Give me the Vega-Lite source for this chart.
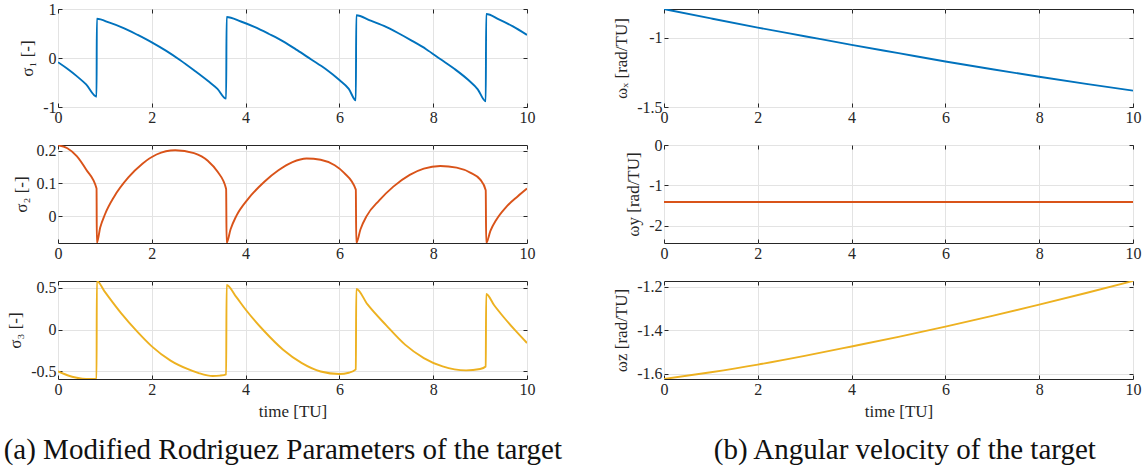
{
  "$schema": "https://vega.github.io/schema/vega-lite/v6.json",
  "background": "white",
  "padding": {"left": 3, "top": 0, "right": 5, "bottom": 5},
  "datasets": {
    "s1": [
      {"t":0,"v":-0.085},{"t":0.2,"v":-0.22},{"t":0.4,"v":-0.37},{"t":0.6,"v":-0.54},{"t":0.822,"v":-0.79},
      {"t":0.828,"v":0.80},{"t":1.1,"v":0.72},{"t":1.4,"v":0.61},{"t":1.7,"v":0.47},{"t":2.0,"v":0.32},{"t":2.3,"v":0.15},{"t":2.6,"v":-0.04},{"t":2.9,"v":-0.25},{"t":3.2,"v":-0.47},{"t":3.4,"v":-0.63},{"t":3.585,"v":-0.83},
      {"t":3.595,"v":0.837},{"t":3.9,"v":0.745},{"t":4.2,"v":0.63},{"t":4.5,"v":0.49},{"t":4.8,"v":0.34},{"t":5.1,"v":0.16},{"t":5.4,"v":-0.03},{"t":5.7,"v":-0.22},{"t":6.0,"v":-0.45},{"t":6.2,"v":-0.63},{"t":6.35,"v":-0.864},
      {"t":6.36,"v":0.871},{"t":6.65,"v":0.77},{"t":6.95,"v":0.655},{"t":7.25,"v":0.51},{"t":7.55,"v":0.35},{"t":7.85,"v":0.18},{"t":8.15,"v":-0.02},{"t":8.45,"v":-0.22},{"t":8.75,"v":-0.45},{"t":8.95,"v":-0.64},{"t":9.12,"v":-0.885},
      {"t":9.13,"v":0.898},{"t":9.4,"v":0.79},{"t":9.7,"v":0.645},{"t":10,"v":0.471}
    ],
    "s2": [
      {"t":0,"v":0.216},{"t":0.2,"v":0.207},{"t":0.4,"v":0.183},{"t":0.6,"v":0.142},{"t":0.822,"v":0.084},
      {"t":0.828,"v":-0.082},{"t":0.9,"v":-0.035},{"t":1.0,"v":0.005},{"t":1.2,"v":0.06},{"t":1.5,"v":0.118},{"t":1.8,"v":0.16},{"t":2.1,"v":0.188},{"t":2.5,"v":0.201},{"t":2.9,"v":0.192},{"t":3.2,"v":0.168},{"t":3.4,"v":0.136},{"t":3.585,"v":0.083},
      {"t":3.595,"v":-0.082},{"t":3.68,"v":-0.04},{"t":3.8,"v":0.0},{"t":4.05,"v":0.052},{"t":4.4,"v":0.105},{"t":4.7,"v":0.14},{"t":5.0,"v":0.165},{"t":5.3,"v":0.176},{"t":5.6,"v":0.172},{"t":5.9,"v":0.155},{"t":6.1,"v":0.132},{"t":6.35,"v":0.081},
      {"t":6.36,"v":-0.082},{"t":6.45,"v":-0.04},{"t":6.58,"v":0.0},{"t":6.85,"v":0.048},{"t":7.15,"v":0.09},{"t":7.5,"v":0.126},{"t":7.8,"v":0.145},{"t":8.15,"v":0.153},{"t":8.5,"v":0.148},{"t":8.8,"v":0.132},{"t":9.0,"v":0.112},{"t":9.12,"v":0.079},
      {"t":9.13,"v":-0.082},{"t":9.22,"v":-0.045},{"t":9.35,"v":-0.01},{"t":9.55,"v":0.027},{"t":9.8,"v":0.06},{"t":10,"v":0.084}
    ],
    "s3": [
      {"t":0,"v":-0.50},{"t":0.2,"v":-0.545},{"t":0.4,"v":-0.575},{"t":0.6,"v":-0.59},{"t":0.822,"v":-0.585},
      {"t":0.828,"v":0.58},{"t":1.0,"v":0.45},{"t":1.34,"v":0.2},{"t":1.7,"v":-0.03},{"t":2.0,"v":-0.2},{"t":2.4,"v":-0.37},{"t":2.76,"v":-0.47},{"t":3.0,"v":-0.52},{"t":3.3,"v":-0.555},{"t":3.45,"v":-0.55},{"t":3.585,"v":-0.535},
      {"t":3.595,"v":0.533},{"t":3.8,"v":0.39},{"t":4.0,"v":0.24},{"t":4.4,"v":-0.02},{"t":4.8,"v":-0.24},{"t":5.2,"v":-0.40},{"t":5.6,"v":-0.50},{"t":6.0,"v":-0.53},{"t":6.2,"v":-0.515},{"t":6.35,"v":-0.475},
      {"t":6.36,"v":0.485},{"t":6.6,"v":0.30},{"t":7.0,"v":0.05},{"t":7.4,"v":-0.18},{"t":7.8,"v":-0.34},{"t":8.2,"v":-0.44},{"t":8.7,"v":-0.487},{"t":9.0,"v":-0.47},{"t":9.12,"v":-0.44},
      {"t":9.13,"v":0.425},{"t":9.3,"v":0.29},{"t":9.5,"v":0.15},{"t":9.75,"v":-0.01},{"t":10,"v":-0.16}
    ],
    "wx": [
      {"t":0,"v":-0.794},{"t":1,"v":-0.862},{"t":2,"v":-0.928},{"t":3,"v":-0.99},{"t":4,"v":-1.052},{"t":5,"v":-1.112},{"t":6,"v":-1.172},{"t":7,"v":-1.228},{"t":8,"v":-1.282},{"t":9,"v":-1.333},{"t":10,"v":-1.382}
    ],
    "wy": [
      {"t":0,"v":-1.414},{"t":5,"v":-1.414},{"t":10,"v":-1.414}
    ],
    "wz": [
      {"t":0,"v":-1.623},{"t":1,"v":-1.592},{"t":2,"v":-1.557},{"t":3,"v":-1.517},{"t":4,"v":-1.474},{"t":5,"v":-1.43},{"t":6,"v":-1.383},{"t":7,"v":-1.334},{"t":8,"v":-1.282},{"t":9,"v":-1.229},{"t":10,"v":-1.174}
    ]
  },
  "hconcat": [
    {
      "vconcat": [
        {
          "width": 469, "height": 98,
          "layer": [
            {"data": {"name": "s1"}, "mark": {"type": "line", "color": "#0072BD", "strokeWidth": 1.9, "clip": true, "interpolate": "monotone"},
             "encoding": {
               "x": {"field": "t", "type": "quantitative", "scale": {"domain": [0, 10], "nice": false}, "axis": {"values": [0,2,4,6,8,10], "labelExpr": "toString(datum.value)", "title": null}},
               "y": {"field": "v", "type": "quantitative", "scale": {"domain": [-1, 1], "nice": false, "zero": false}, "axis": {"values": [-1,0,1], "labelExpr": "toString(datum.value)", "title": "σ₁ [-]"}}}},
            {"data": {"name": "s1"}, "mark": {"type": "line", "opacity": 0},
             "encoding": {
               "x": {"field": "t", "type": "quantitative", "scale": {"domain": [0, 10], "nice": false}, "axis": {"orient": "top", "values": [0,2,4,6,8,10], "labels": false, "grid": false, "title": null}},
               "y": {"field": "v", "type": "quantitative", "scale": {"domain": [-1, 1], "nice": false, "zero": false}, "axis": {"orient": "right", "values": [-1,0,1], "labels": false, "grid": false, "title": null}}}}
          ],
          "resolve": {"axis": {"x": "independent", "y": "independent"}}
        },
        {
          "width": 469, "height": 98,
          "layer": [
            {"data": {"name": "s2"}, "mark": {"type": "line", "color": "#D95319", "strokeWidth": 1.9, "clip": true, "interpolate": "monotone"},
             "encoding": {
               "x": {"field": "t", "type": "quantitative", "scale": {"domain": [0, 10], "nice": false}, "axis": {"values": [0,2,4,6,8,10], "labelExpr": "toString(datum.value)", "title": null}},
               "y": {"field": "v", "type": "quantitative", "scale": {"domain": [-0.082, 0.217], "nice": false, "zero": false}, "axis": {"values": [0,0.1,0.2], "labelExpr": "toString(datum.value)", "title": "σ₂ [-]"}}}},
            {"data": {"name": "s2"}, "mark": {"type": "line", "opacity": 0},
             "encoding": {
               "x": {"field": "t", "type": "quantitative", "scale": {"domain": [0, 10], "nice": false}, "axis": {"orient": "top", "values": [0,2,4,6,8,10], "labels": false, "grid": false, "title": null}},
               "y": {"field": "v", "type": "quantitative", "scale": {"domain": [-0.082, 0.217], "nice": false, "zero": false}, "axis": {"orient": "right", "values": [0,0.1,0.2], "labels": false, "grid": false, "title": null}}}}
          ],
          "resolve": {"axis": {"x": "independent", "y": "independent"}}
        },
        {
          "width": 469, "height": 98,
          "layer": [
            {"data": {"name": "s3"}, "mark": {"type": "line", "color": "#EDB120", "strokeWidth": 1.9, "clip": true, "interpolate": "monotone"},
             "encoding": {
               "x": {"field": "t", "type": "quantitative", "scale": {"domain": [0, 10], "nice": false}, "axis": {"values": [0,2,4,6,8,10], "labelExpr": "toString(datum.value)", "title": "time [TU]"}},
               "y": {"field": "v", "type": "quantitative", "scale": {"domain": [-0.59, 0.58], "nice": false, "zero": false}, "axis": {"values": [-0.5,0,0.5], "labelExpr": "toString(datum.value)", "title": "σ₃ [-]"}}}},
            {"data": {"name": "s3"}, "mark": {"type": "line", "opacity": 0},
             "encoding": {
               "x": {"field": "t", "type": "quantitative", "scale": {"domain": [0, 10], "nice": false}, "axis": {"orient": "top", "values": [0,2,4,6,8,10], "labels": false, "grid": false, "title": null}},
               "y": {"field": "v", "type": "quantitative", "scale": {"domain": [-0.59, 0.58], "nice": false, "zero": false}, "axis": {"orient": "right", "values": [-0.5,0,0.5], "labels": false, "grid": false, "title": null}}}}
          ],
          "resolve": {"axis": {"x": "independent", "y": "independent"}}
        }
      ],
      "spacing": 38,
      "bounds": "flush",
      "title": {"text": "(a) Modified Rodriguez Parameters of the target", "orient": "bottom", "anchor": "middle", "fontSize": 29, "fontWeight": "normal", "font": "Liberation Serif", "color": "#111111", "offset": 16, "dx": 12}
    },
    {
      "vconcat": [
        {
          "width": 469, "height": 98,
          "layer": [
            {"data": {"name": "wx"}, "mark": {"type": "line", "color": "#0072BD", "strokeWidth": 1.9, "clip": true, "interpolate": "monotone"},
             "encoding": {
               "x": {"field": "t", "type": "quantitative", "scale": {"domain": [0, 10], "nice": false}, "axis": {"values": [0,2,4,6,8,10], "labelExpr": "toString(datum.value)", "title": null}},
               "y": {"field": "v", "type": "quantitative", "scale": {"domain": [-1.5, -0.794], "nice": false, "zero": false}, "axis": {"values": [-1.5,-1], "labelExpr": "toString(datum.value)", "title": "ωₓ [rad/TU]"}}}},
            {"data": {"name": "wx"}, "mark": {"type": "line", "opacity": 0},
             "encoding": {
               "x": {"field": "t", "type": "quantitative", "scale": {"domain": [0, 10], "nice": false}, "axis": {"orient": "top", "values": [0,2,4,6,8,10], "labels": false, "grid": false, "title": null}},
               "y": {"field": "v", "type": "quantitative", "scale": {"domain": [-1.5, -0.794], "nice": false, "zero": false}, "axis": {"orient": "right", "values": [-1.5,-1], "labels": false, "grid": false, "title": null}}}}
          ],
          "resolve": {"axis": {"x": "independent", "y": "independent"}}
        },
        {
          "width": 469, "height": 98,
          "layer": [
            {"data": {"name": "wy"}, "mark": {"type": "line", "color": "#D95319", "strokeWidth": 1.9, "clip": true},
             "encoding": {
               "x": {"field": "t", "type": "quantitative", "scale": {"domain": [0, 10], "nice": false}, "axis": {"values": [0,2,4,6,8,10], "labelExpr": "toString(datum.value)", "title": null}},
               "y": {"field": "v", "type": "quantitative", "scale": {"domain": [-2.43, 0], "nice": false, "zero": false}, "axis": {"values": [-2,-1,0], "labelExpr": "toString(datum.value)", "title": "ωy [rad/TU]"}}}},
            {"data": {"name": "wy"}, "mark": {"type": "line", "opacity": 0},
             "encoding": {
               "x": {"field": "t", "type": "quantitative", "scale": {"domain": [0, 10], "nice": false}, "axis": {"orient": "top", "values": [0,2,4,6,8,10], "labels": false, "grid": false, "title": null}},
               "y": {"field": "v", "type": "quantitative", "scale": {"domain": [-2.43, 0], "nice": false, "zero": false}, "axis": {"orient": "right", "values": [-2,-1,0], "labels": false, "grid": false, "title": null}}}}
          ],
          "resolve": {"axis": {"x": "independent", "y": "independent"}}
        },
        {
          "width": 469, "height": 98,
          "layer": [
            {"data": {"name": "wz"}, "mark": {"type": "line", "color": "#EDB120", "strokeWidth": 1.9, "clip": true, "interpolate": "monotone"},
             "encoding": {
               "x": {"field": "t", "type": "quantitative", "scale": {"domain": [0, 10], "nice": false}, "axis": {"values": [0,2,4,6,8,10], "labelExpr": "toString(datum.value)", "title": "time [TU]"}},
               "y": {"field": "v", "type": "quantitative", "scale": {"domain": [-1.623, -1.174], "nice": false, "zero": false}, "axis": {"values": [-1.6,-1.4,-1.2], "labelExpr": "toString(datum.value)", "title": "ωz [rad/TU]"}}}},
            {"data": {"name": "wz"}, "mark": {"type": "line", "opacity": 0},
             "encoding": {
               "x": {"field": "t", "type": "quantitative", "scale": {"domain": [0, 10], "nice": false}, "axis": {"orient": "top", "values": [0,2,4,6,8,10], "labels": false, "grid": false, "title": null}},
               "y": {"field": "v", "type": "quantitative", "scale": {"domain": [-1.623, -1.174], "nice": false, "zero": false}, "axis": {"orient": "right", "values": [-1.6,-1.4,-1.2], "labels": false, "grid": false, "title": null}}}}
          ],
          "resolve": {"axis": {"x": "independent", "y": "independent"}}
        }
      ],
      "spacing": 38,
      "bounds": "flush",
      "title": {"text": "(b) Angular velocity of the target", "orient": "bottom", "anchor": "middle", "fontSize": 29, "fontWeight": "normal", "font": "Liberation Serif", "color": "#111111", "offset": 16, "dx": 28}
    }
  ],
  "spacing": 50,
  "config": {
    "font": "Liberation Serif",
    "view": {"stroke": "#262626", "strokeWidth": 1},
    "axis": {
      "labelFont": "Liberation Serif", "titleFont": "Liberation Serif",
      "labelFontSize": 16, "titleFontSize": 17, "titleFontWeight": "normal",
      "labelColor": "#262626", "titleColor": "#262626",
      "gridColor": "#e3e3e3", "gridWidth": 1,
      "tickColor": "#262626", "tickSize": -4, "tickWidth": 1,
      "domain": false, "labelPadding": 6, "labelFlush": false, "labelOverlap": false, "titlePadding": 6
    }
  }
}
